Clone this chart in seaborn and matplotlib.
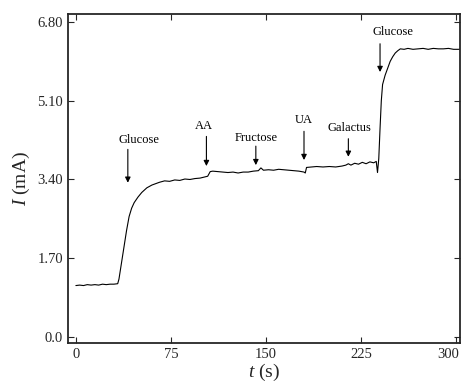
import matplotlib
matplotlib.use("Agg")
import matplotlib.pyplot as plt
import matplotlib.transforms as mtransforms
import seaborn as sns
import pandas as pd

time_s = [0, 3, 6, 9, 12, 15, 18, 21, 24, 27, 30, 33,
          34, 36, 38, 40, 42, 44, 46, 49, 52, 56, 60, 63, 66, 70, 74, 78, 82, 86, 90, 94, 98, 101, 104,
          106, 108, 112, 116, 120, 124, 128, 132, 136, 140, 144, 146, 148, 152, 156, 160, 164, 168, 172, 176, 180, 181,
          182, 186, 190, 195, 200, 205, 210, 213, 215, 217, 220, 223, 226, 229, 232, 235, 237, 238,
          239, 240, 241, 242, 244, 246, 248, 250, 252, 254, 256, 259, 262, 266, 270, 274, 278, 282, 286, 290, 294, 298, 303]
current_mA = [1.11, 1.12, 1.11, 1.13, 1.12, 1.13, 1.12, 1.14, 1.13, 1.14, 1.14, 1.15,
              1.25, 1.6, 1.95, 2.3, 2.6, 2.78, 2.9, 3.02, 3.12, 3.22, 3.28, 3.31, 3.34, 3.37, 3.36, 3.39, 3.38, 3.41, 3.40, 3.42, 3.43, 3.45, 3.47,
              3.57, 3.58, 3.57, 3.56, 3.55, 3.56, 3.54, 3.56, 3.56, 3.58, 3.59, 3.65, 3.60, 3.61, 3.60, 3.62, 3.61, 3.60, 3.59, 3.58, 3.56, 3.54,
              3.66, 3.67, 3.68, 3.67, 3.68, 3.67, 3.69, 3.71, 3.74, 3.71, 3.75, 3.73, 3.77, 3.74, 3.78, 3.76, 3.79, 3.55,
              3.85, 4.5, 5.1, 5.45, 5.65, 5.8, 5.95, 6.05, 6.13, 6.18, 6.22, 6.21, 6.23, 6.21, 6.22, 6.23, 6.21, 6.23, 6.22, 6.22, 6.23, 6.21, 6.21]

labels = ["Glucose", "AA", "Fructose", "UA", "Galactus", "Glucose"]
label_t = [50, 101, 142.5, 179.5, 216, 250]
label_y = [4.25, 4.56, 4.30, 4.69, 4.51, 6.59]
arrow_t = [41, 103, 142, 180, 215, 240]
arrow_from = [4.05, 4.33, 4.12, 4.44, 4.28, 6.33]
arrow_to = [3.33, 3.69, 3.71, 3.82, 3.89, 5.72]

sns.set_style("ticks")
plt.rcParams['font.family'] = ['Liberation Serif', 'DejaVu Serif']
plt.rcParams['mathtext.fontset'] = 'custom'
plt.rcParams['mathtext.it'] = 'Liberation Serif:italic'
plt.rcParams['mathtext.rm'] = 'Liberation Serif'

df = pd.DataFrame({"t": time_s, "I": current_mA})

fig = plt.figure(figsize=(4.65, 3.92), dpi=100)
ax = fig.add_axes([0.146, 0.125, 0.843, 0.839])
sns.lineplot(data=df, x="t", y="I", ax=ax, color="black", linewidth=0.8)

for lab, lt, ly, at, af, ato in zip(labels, label_t, label_y, arrow_t, arrow_from, arrow_to):
    ax.text(lt, ly, lab, ha="center", va="center", fontsize=9, color="black")
    ax.annotate("", xy=(at, ato), xytext=(at, af),
                arrowprops=dict(arrowstyle="-|>", color="black", lw=0.8,
                                mutation_scale=8, shrinkA=0, shrinkB=0))

ax.set_xlim(-6.3, 303)
ax.set_ylim(-0.13, 6.97)
ax.set_xticks([0, 75, 150, 225, 300])
ax.set_yticks([0.0, 1.70, 3.40, 5.10, 6.80])
ax.set_yticklabels(["0.0", "1.70", "3.40", "5.10", "6.80"])
ax.tick_params(direction="in", top=True, right=True, labelsize=10.5, length=4, width=0.8)
for s in ax.spines.values():
    s.set_linewidth(1.3)
    s.set_visible(True)
ax.set_xlabel("$t$ (s)", fontsize=14, labelpad=1)
ax.set_ylabel("$I$ (mA)", fontsize=14, labelpad=4)

last = ax.get_xticklabels()[-1]
last.set_horizontalalignment("right")
last.set_transform(last.get_transform() + mtransforms.ScaledTranslation(3 / 100, 0, fig.dpi_scale_trans))

fig.savefig("out.png", dpi=100)
